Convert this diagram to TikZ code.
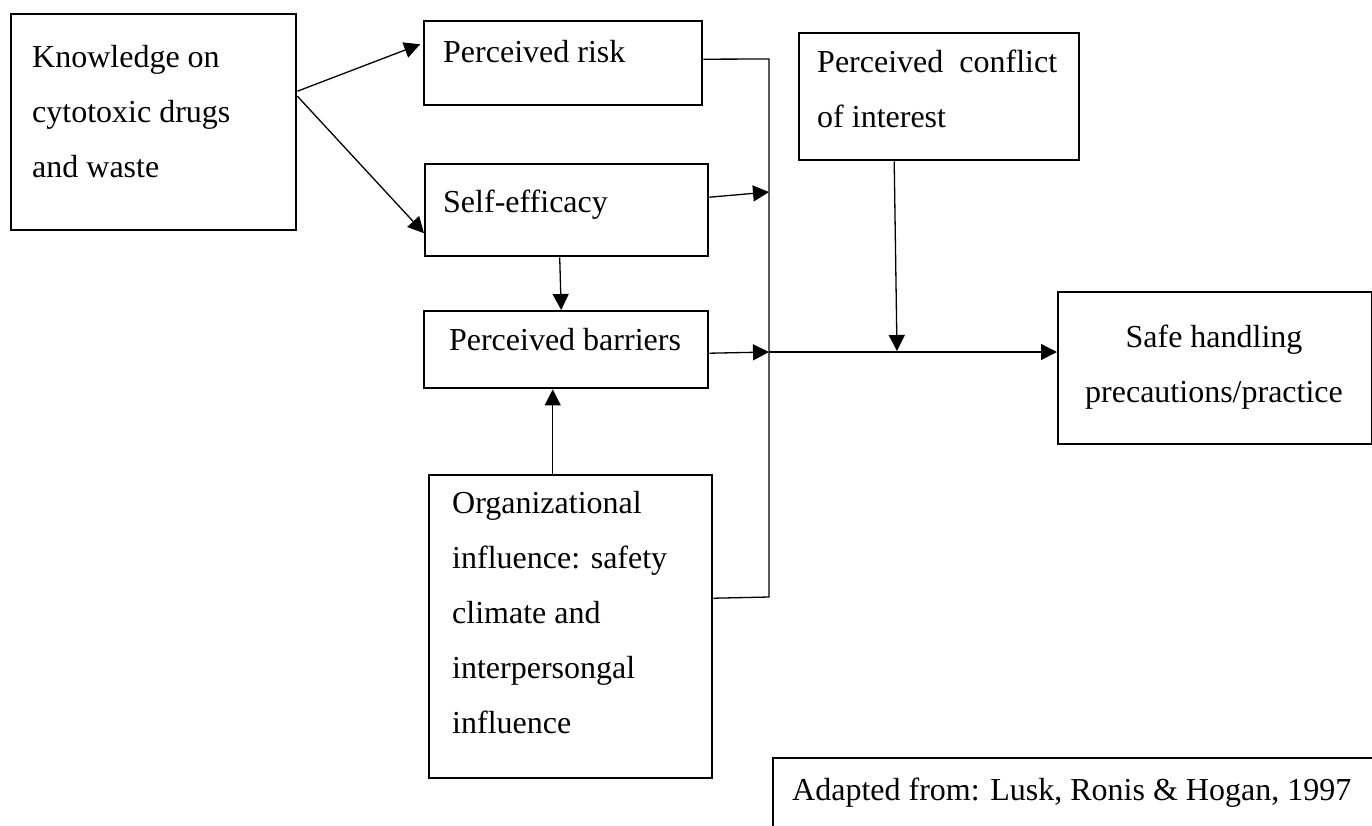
\documentclass[tikz,border=0pt]{standalone}
\usepackage{fontspec}
\setmainfont{Liberation Serif}
\usetikzlibrary{arrows.meta,calc}
\begin{document}
\begin{tikzpicture}[x=1pt,y=-1pt,
  box/.style={draw, line width=2.4pt, inner sep=0pt, anchor=north west},
  txt/.style={font=\fontsize{32}{55}\selectfont, inner sep=0pt},
  mtxt/.style={txt, align=left, anchor=north west},
  conn/.style={line width=1.3pt},
  arr/.style={conn, -{Triangle[length=16pt,width=16pt]}}]
\useasboundingbox (0,0) rectangle (1372,825);
\clip (0,0) rectangle (1372,825);
% boxes
\node[box, minimum width=285pt, minimum height=216pt] (know) at (10,13) {};
\node[box, minimum width=278pt, minimum height=84pt] (risk) at (423,20) {};
\node[box, minimum width=283pt, minimum height=92pt] (self) at (424,163) {};
\node[box, minimum width=284pt, minimum height=77pt] (bar) at (423,310) {};
\node[box, minimum width=283pt, minimum height=303pt] (org) at (428,474) {};
\node[box, minimum width=280pt, minimum height=127pt] (conf) at (798,32) {};
\node[box, minimum width=314pt, minimum height=152pt] (safe) at (1057,291) {};
\node[draw, line width=1.6pt, inner sep=0pt, anchor=north west, minimum width=620pt, minimum height=100pt] (adapt) at (772,757) {};
% texts
\node[mtxt] (knowT) at (32,45) {Knowledge on\\cytotoxic drugs\\and waste};
\node[txt, anchor=base west] (riskT) at (443,62) {Perceived risk};
\node[txt, anchor=base west] (selfT) at (443,212) {Self-efficacy};
\node[txt, anchor=base] (barT) at (565,350) {Perceived barriers};
\node[mtxt] (orgT) at (452,491) {Organizational\\influence: safety\\climate and\\interpersongal\\influence};
\node[mtxt] (confT) at (817,50) {Perceived\ \ conflict\\of interest};
\node[txt, align=center, anchor=north] (safeT) at (1214,325) {Safe handling\\precautions/practice};
\node[txt, anchor=base west] (adaptT) at (792,800) {Adapted from: Lusk, Ronis \& Hogan, 1997};
% junction coordinates
\coordinate (top) at (769,59);
\coordinate (bot) at (769,597);
\coordinate (sj) at (769,192);
\coordinate (bj) at (769,352);
\coordinate (cj) at (897,351);
% connectors
\draw[arr, shorten >=3pt] ([yshift=31pt]know.east) -- ([yshift=20pt]risk.west);
\draw[arr] ([yshift=26pt]know.east) -- ([yshift=-23pt]self.west);
\draw[conn] ([yshift=4pt]risk.east) -- (top) -- (bot) -- ([yshift=28.5pt]org.east);
\draw[arr] ([yshift=13pt]self.east) -- (sj);
\draw[arr] ([yshift=-3.5pt]bar.east) -- (bj);
\draw[arr] (bj) -- (bj -| safe.west);
\draw[arr] ([xshift=-45pt]conf.south) -- (cj);
\draw[arr] ([xshift=-7pt]self.south) -- ([xshift=-5pt]bar.north);
\draw[arr] ([xshift=-18pt]org.north) -- ([xshift=-18pt]org.north |- bar.south);
\end{tikzpicture}
\end{document}
